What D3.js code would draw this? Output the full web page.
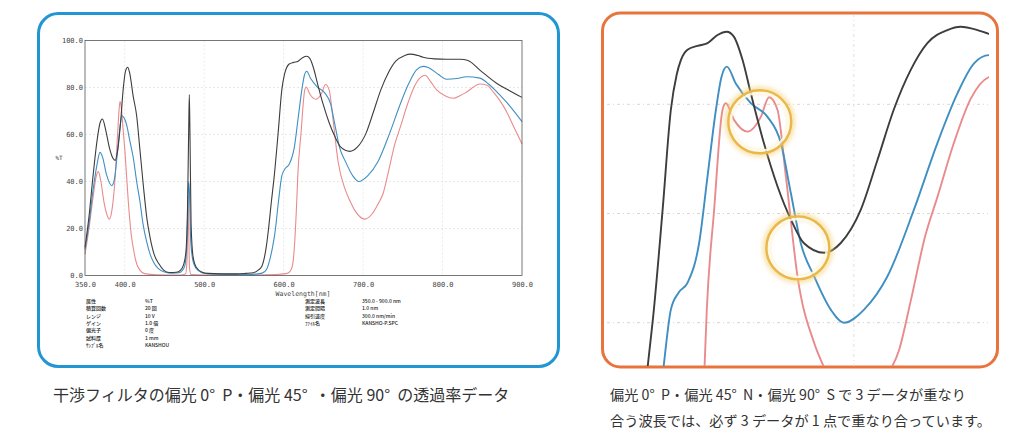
<!DOCTYPE html>
<html>
<head>
<meta charset="utf-8">
<script src="https://cdn.jsdelivr.net/npm/d3@7"></script>
<style>
  html, body { margin: 0; padding: 0; background: #fff; }
  svg { display: block; }
</style>
</head>
<body>
<svg id="chart"></svg>
<script>
// transmittance spectra, wavelength in nm / %T
var blackNm = [350,355,360,365,369,372,376,381,385,388,391,395,398,401,403.7,406,410.8,415,419,423.5,428,432,437,443,449,456,465,470,474,477,479,480.5,481.3,482.2,483.5,486,490,497,505,520,540,552,562,568,572.4,576,578.5,580.7,584.7,588.2,593.1,597.7,601,603.3,607,612.6,618.2,623.8,629,632.9,637.8,642.4,649.7,657.3,664.8,672,683.4,692.7,703.9,713.2,722.3,731.8,741.1,752.3,759.7,769.1,775.5,790,805,822,832,847,868,885,900];
var blackT  = [12,25,42,57,65,66.6,62,54,50,49,53,66,79,87,88.6,86.5,76,68,54,38,24,16,9,5,2.3,1.3,1.4,2.2,4.5,10,28,62,77,58,22,8,3.5,1.5,0.9,0.7,0.7,0.9,1.2,2.3,3.8,8,13,19,31.8,42.4,60.7,79,85.5,88.1,90,90.7,91.2,92.7,93.3,92.4,88.1,82,72.9,65,58.9,54.6,52.8,54.6,60.7,69.8,79,86.3,91.2,93.6,94.2,93.6,92.9,92.2,92,92,91.5,87.4,81.8,78.5,75.8];

var blueNm = [350,355,360,365,368.9,372,377,383.6,387,391,394,396.2,400,402.5,406,410.8,415,419.2,423,427.6,432,436,442,450,460,468,472,475.5,478,479.5,480.5,481.5,483,486,490,497,505,530,555,565,573,578.7,582,586,589,593.6,597.7,602,607,613.5,618.2,622.9,626,629,634,642.4,651.7,659.2,664.8,670.3,677.8,687.1,694.5,705.7,718.8,733.6,746.7,757.9,767.2,775.5,782,795,805,818,830,847,858,868,885,900];
var blueT  = [11,22,36,47,52.4,50.5,43,38.2,41,53,63,68,66.5,64,58,50,40,31.4,22,14.4,9,5.9,3,1.5,1,1.2,2,4,12,30,40,35,15,6,3,1.2,0.7,0.5,0.5,0.6,1,2.7,6,12,18,31.8,42.4,45.5,47.3,54.6,66.8,79,85,86.9,83.8,80.2,77.7,72.9,63.7,54.6,48.5,42.4,40,42.4,48.5,60.7,72.9,82,87.5,89,88.5,85.5,83.5,83.8,84.6,84,81.5,78.2,72,65.5];

var redNm = [350,355,360,364,366.8,370,374,378,380.6,384,388,391,393,394,395.5,398,400.3,404.5,408,410.8,415,419.2,425,440,470,476.5,478.3,479.2,479.8,480.6,481.6,483.5,500,560,590,603,608,611,613.5,616.3,617.8,621.9,626.6,628.4,633.1,640.6,648,652.6,657.3,662,668.5,677.8,683.4,690,702,712,719,725.3,731.8,740,746.7,756,765.3,775.5,778,785,792.6,803,813.5,822,830,847,856,864,872,880.6,890,900];
var redT  = [9,20,33,42,44.2,40,31,25.5,24,28,42,60,71,74,72,62,52.7,31.4,18,11.6,5,2.3,0.8,0.3,0.2,0.6,6,22,34,18,3,0.4,0.2,0.2,0.4,0.8,1.8,4,12,30,42.4,60.7,79,80.2,77.1,75,77.7,81.3,79,66.8,48.5,36.3,31.8,27.5,24,26.5,30.5,35,44,56,63,73,81,85,85.2,82.5,79,76.5,75.4,76.5,78,81.5,81,78,74.5,69.7,63,56];

var xTicks = [350,400,500,600,700,800,900];
var yTicks = [0,20,40,60,80,100];

// the two points where all three curves cross (marked on the zoomed panel)
var crossNm = [647.4, 668.7];
var crossT  = [76.8, 53.7];

var infoLabels  = ["属性","積算回数","レンジ","ゲイン","偏光子","試料厚","ｻﾝﾌﾟﾙ名"];
var infoValues  = ["%T","20 回","10 V","1.0 倍","0 度","1 mm","KANSHOU"];
var infoLabels2 = ["測定波長","測定間隔","掃引速度","ﾌｧｲﾙ名"];
var infoValues2 = ["350.0 - 900.0 nm","1.0 nm","300.0 nm/min","KANSHO-P.SPC"];

var captionLeft = "干渉フィルタの偏光 0°  P・偏光 45°  ・偏光 90°  の透過率データ";
var captionRight = ["偏光 0°  P・偏光 45°  N・偏光 90°  S で 3 データが重なり",
                    "合う波長では、必ず 3 データが 1 点で重なり合っています。"];

var width = 1024, height = 447;
var jp = "'Noto Sans CJK JP', 'Noto Sans', sans-serif";
var mono = "'DejaVu Sans Mono', 'Liberation Mono', monospace";

var series = [
  {nm: redNm,   t: redT,   color: "#e98b8d"},
  {nm: blueNm,  t: blueT,  color: "#3f8fc2"},
  {nm: blackNm, t: blackT, color: "#3d3d3d"}
];
series.forEach(function(s) {
  s.points = s.nm.map(function(d, i) { return [d, s.t[i]]; });
});

var svg = d3.select("#chart")
  .attr("width", width)
  .attr("height", height);

var defs = svg.append("defs");

// ---------- left panel : full spectrum ----------
svg.append("rect")
  .attr("x", 38.5).attr("y", 13.5)
  .attr("width", 520).attr("height", 353)
  .attr("rx", 20)
  .attr("fill", "#fff")
  .attr("stroke", "#2196d3")
  .attr("stroke-width", 3);

var xL = d3.scaleLinear().domain([350, 900]).range([85, 522]);
var yL = d3.scaleLinear().domain([0, 100]).range([275.5, 40.5]);

var left = svg.append("g");

// faint grid
left.selectAll(".hgrid")
  .data(yTicks.slice(1, -1))
  .enter().append("line")
  .attr("x1", xL(350)).attr("x2", xL(900))
  .attr("y1", function(d) { return yL(d); })
  .attr("y2", function(d) { return yL(d); })
  .attr("stroke", "#d8d8d8")
  .attr("stroke-width", 0.6)
  .attr("stroke-dasharray", "2,2");

left.selectAll(".vgrid")
  .data(xTicks.slice(1, -1))
  .enter().append("line")
  .attr("x1", function(d) { return xL(d); })
  .attr("x2", function(d) { return xL(d); })
  .attr("y1", yL(100)).attr("y2", yL(0))
  .attr("stroke", "#dcdcdc")
  .attr("stroke-width", 0.6)
  .attr("stroke-dasharray", "2,2");

var lineL = d3.line()
  .x(function(d) { return xL(d[0]); })
  .y(function(d) { return yL(d[1]); })
  .curve(d3.curveMonotoneX);

left.selectAll(".specL")
  .data(series)
  .enter().append("path")
  .attr("d", function(d) { return lineL(d.points); })
  .attr("fill", "none")
  .attr("stroke", function(d) { return d.color; })
  .attr("stroke-width", 1.1);

// frame
left.append("rect")
  .attr("x", xL(350)).attr("y", yL(100))
  .attr("width", xL(900) - xL(350))
  .attr("height", yL(0) - yL(100))
  .attr("fill", "none")
  .attr("stroke", "#555")
  .attr("stroke-width", 0.8);

var fmt = d3.format(".1f");

var xAxis = left.append("g")
  .attr("transform", "translate(0," + yL(0) + ")")
  .call(d3.axisBottom(xL).tickValues(xTicks).tickFormat(fmt).tickSize(0).tickPadding(7));
xAxis.select(".domain").remove();
xAxis.selectAll("text")
  .attr("font-family", mono).attr("font-size", 7).attr("fill", "#444");

var yAxis = left.append("g")
  .attr("transform", "translate(" + xL(350) + ",0)")
  .call(d3.axisLeft(yL).tickValues(yTicks).tickFormat(fmt).tickSize(0).tickPadding(2));
yAxis.select(".domain").remove();
yAxis.selectAll("text")
  .attr("font-family", mono).attr("font-size", 7).attr("fill", "#444");

left.append("text")
  .attr("x", 303).attr("y", 295.5)
  .attr("text-anchor", "middle")
  .attr("font-family", mono).attr("font-size", 6.5).attr("fill", "#444")
  .text("Wavelength[nm]");

left.append("text")
  .attr("x", 59).attr("y", 159.5)
  .attr("text-anchor", "middle")
  .attr("font-family", mono).attr("font-size", 6).attr("fill", "#444")
  .text("%T");

// measurement conditions block (rows a touch looser than the print so they do not collide)
var rowStep = 7.3;
function infoColumn(list, x) {
  left.selectAll(null)
    .data(list)
    .enter().append("text")
    .attr("x", x)
    .attr("y", function(d, i) { return 303 + i * rowStep; })
    .attr("font-family", jp)
    .attr("font-size", 5)
    .attr("font-weight", 500)
    .attr("fill", "#222")
    .text(function(d) { return d; });
}
infoColumn(infoLabels, 86);
infoColumn(infoValues, 145);
infoColumn(infoLabels2, 305);
infoColumn(infoValues2, 362);

// ---------- right panel : zoom on the crossing region ----------
svg.append("rect")
  .attr("x", 602.5).attr("y", 13)
  .attr("width", 395).attr("height", 354)
  .attr("rx", 18)
  .attr("fill", "#fff")
  .attr("stroke", "#e8743b")
  .attr("stroke-width", 3);

defs.append("clipPath").attr("id", "clipR")
  .append("rect")
  .attr("x", 604).attr("y", 14.5)
  .attr("width", 385).attr("height", 351.5);

var xR = d3.scaleLinear().domain([562, 775]).range([607, 988]);
var yR = d3.scaleLinear().domain([40, 80]).range([322.7, 104.3]);

var right = svg.append("g").attr("clip-path", "url(#clipR)");

right.selectAll(".hgridR")
  .data([40, 60, 80])
  .enter().append("line")
  .attr("x1", 607).attr("x2", 988)
  .attr("y1", function(d) { return yR(d); })
  .attr("y2", function(d) { return yR(d); })
  .attr("stroke", "#d6d6d6")
  .attr("stroke-width", 1)
  .attr("stroke-dasharray", "3,3,1,3");

right.append("line")
  .attr("x1", xR(700)).attr("x2", xR(700))
  .attr("y1", 14).attr("y2", 368)
  .attr("stroke", "#dedede")
  .attr("stroke-width", 1)
  .attr("stroke-dasharray", "3,3,1,3");

var lineR = d3.line()
  .x(function(d) { return xR(d[0]); })
  .y(function(d) { return yR(d[1]); })
  .curve(d3.curveMonotoneX);

right.selectAll(".specR")
  .data(series)
  .enter().append("path")
  .attr("d", function(d) { return lineR(d.points); })
  .attr("fill", "none")
  .attr("stroke", function(d) { return d.color; })
  .attr("stroke-width", 1.9);

// glowing rings around the crossings
var glow = defs.append("filter").attr("id", "glow")
  .attr("x", "-30%").attr("y", "-30%").attr("width", "160%").attr("height", "160%");
glow.append("feGaussianBlur").attr("stdDeviation", 2.2);

var crosses = crossNm.map(function(d, i) { return [d, crossT[i]]; });

var rings = svg.append("g");
rings.selectAll(".halo")
  .data(crosses)
  .enter().append("circle")
  .attr("cx", function(d) { return xR(d[0]); })
  .attr("cy", function(d) { return yR(d[1]); })
  .attr("r", 32)
  .attr("fill", "none")
  .attr("stroke", "#f3cf6e")
  .attr("stroke-width", 7)
  .attr("opacity", 0.55)
  .attr("filter", "url(#glow)");
rings.selectAll(".inner")
  .data(crosses)
  .enter().append("circle")
  .attr("cx", function(d) { return xR(d[0]); })
  .attr("cy", function(d) { return yR(d[1]); })
  .attr("r", 29)
  .attr("fill", "none")
  .attr("stroke", "#fffaf0")
  .attr("stroke-width", 2.5)
  .attr("opacity", 0.85);
rings.selectAll(".ring")
  .data(crosses)
  .enter().append("circle")
  .attr("cx", function(d) { return xR(d[0]); })
  .attr("cy", function(d) { return yR(d[1]); })
  .attr("r", 31.5)
  .attr("fill", "none")
  .attr("stroke", "#eab84a")
  .attr("stroke-width", 2.4);

// ---------- captions ----------
svg.append("text")
  .attr("x", 53).attr("y", 401)
  .attr("font-family", jp).attr("font-size", 16).attr("fill", "#333")
  .style("white-space", "pre")
  .text(captionLeft);

svg.selectAll(".capR")
  .data(captionRight)
  .enter().append("text")
  .attr("x", 610)
  .attr("y", function(d, i) { return 400 + i * 25.5; })
  .attr("font-family", jp).attr("font-size", 14.2).attr("fill", "#333")
  .style("white-space", "pre")
  .text(function(d) { return d; });
</script>
</body>
</html>
